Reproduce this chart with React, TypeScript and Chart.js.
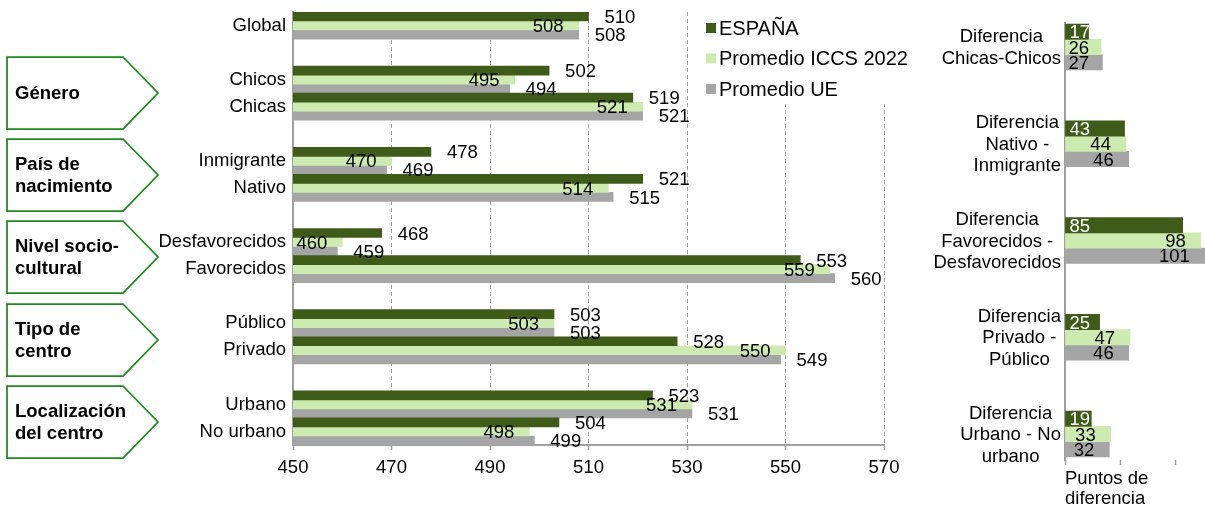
import React, { useEffect, useRef } from 'react';
import { Chart, registerables } from 'chart.js';

Chart.register(...registerables);

const FONT = "'Liberation Sans', Arial, sans-serif";
const DARK = '#3E5B19';
const LIGHT = '#CDEAB0';
const GRAY = '#A5A5A5';
const AXIS = '#A0A0A0';

// ---- main chart data ----
const categories = ['Global', '', 'Chicos', 'Chicas', '', 'Inmigrante', 'Nativo', '', 'Desfavorecidos', 'Favorecidos', '', 'Público', 'Privado', '', 'Urbano', 'No urbano'];
const espana = [510, null, 502, 519, null, 478, 521, null, 468, 553, null, 503, 528, null, 523, 504];
const iccs = [508, null, 495, 521, null, 470, 514, null, 460, 559, null, 503, 550, null, 531, 498];
const ue = [508, null, 494, 521, null, 469, 515, null, 459, 560, null, 503, 549, null, 531, 499];
const seriesNames = ['ESPAÑA', 'Promedio ICCS 2022', 'Promedio UE'];
const xTicks = [450, 470, 490, 510, 530, 550, 570];

// ---- group chevrons ----
const groupLabels = [['Género'], ['País de', 'nacimiento'], ['Nivel socio-', 'cultural'], ['Tipo de', 'centro'], ['Localización', 'del centro']];

// ---- difference chart data ----
const diffCategories = [
  ['Diferencia', 'Chicas-Chicos'],
  ['Diferencia', 'Nativo -', 'Inmigrante'],
  ['Diferencia', 'Favorecidos -', 'Desfavorecidos'],
  ['Diferencia', 'Privado -', 'Público'],
  ['Diferencia', 'Urbano - No', 'urbano'],
];
const diffEspana = [17, 43, 85, 25, 19];
const diffIccs = [26, 44, 98, 47, 33];
const diffUe = [27, 46, 101, 46, 32];
const diffTicks = [0, 40, 80];
const diffAxisTitle = ['Puntos de', 'diferencia'];

// layout constants (not data)
const chevronTops = [57, 139, 221, 304, 386];

const mainDecor = {
  id: 'mainDecor',
  beforeDatasetsDraw(chart: any) {
    const ctx = chart.ctx;
    ctx.save();
    // legend box (covers gridlines)
    ctx.fillStyle = '#fff';
    ctx.fillRect(697, 0, 216, 104);
    const ys = [28, 58.5, 89];
    const cols = [DARK, LIGHT, GRAY];
    ctx.font = `20px ${FONT}`;
    ctx.textBaseline = 'middle';
    ctx.textAlign = 'left';
    seriesNames.forEach((n, i) => {
      ctx.fillStyle = cols[i];
      ctx.fillRect(706, ys[i] - 5, 10, 10);
      ctx.fillStyle = '#000';
      ctx.fillText(n, 719, ys[i] + 1);
    });
    ctx.restore();
  },
  afterDatasetsDraw(chart: any) {
    const ctx = chart.ctx;
    ctx.save();
    ctx.font = `18.5px ${FONT}`;
    ctx.fillStyle = '#000';
    ctx.textBaseline = 'middle';
    chart.data.datasets.forEach((ds: any, di: number) => {
      const meta = chart.getDatasetMeta(di);
      meta.data.forEach((el: any, i: number) => {
        const v = ds.data[i];
        if (v == null) return;
        const { x, y } = el.getProps(['x', 'y'], true);
        if (di === 1) {
          ctx.textAlign = 'right';
          ctx.fillText(String(v), x - 15, y + 1.5);
        } else {
          ctx.textAlign = 'left';
          ctx.fillText(String(v), x + 16, y + 1.5);
        }
      });
    });
    ctx.restore();
  },
  afterDraw(chart: any) {
    const ctx = chart.ctx;
    ctx.save();
    groupLabels.forEach((lines, gi) => {
      const t = chevronTops[gi];
      const h = 72;
      ctx.beginPath();
      ctx.moveTo(7, t);
      ctx.lineTo(123, t);
      ctx.lineTo(158, t + h / 2);
      ctx.lineTo(123, t + h);
      ctx.lineTo(7, t + h);
      ctx.closePath();
      ctx.fillStyle = '#fff';
      ctx.fill();
      ctx.strokeStyle = '#1E8B1E';
      ctx.lineWidth = 1.75;
      ctx.stroke();
      ctx.fillStyle = '#000';
      ctx.font = `bold 18.5px ${FONT}`;
      ctx.textBaseline = 'middle';
      ctx.textAlign = 'left';
      const lh = 22;
      const cy = t + h / 2 + 1;
      lines.forEach((ln, li) => {
        ctx.fillText(ln, 15, cy - ((lines.length - 1) * lh) / 2 + li * lh);
      });
    });
    ctx.restore();
  },
};

const diffDecor = {
  id: 'diffDecor',
  afterDatasetsDraw(chart: any) {
    const ctx = chart.ctx;
    const yScale = chart.scales.y;
    const left = chart.chartArea.left;
    ctx.save();
    ctx.font = `18.5px ${FONT}`;
    ctx.textBaseline = 'middle';
    // category labels: lines centred on each other, block right-aligned to axis
    ctx.fillStyle = '#000';
    ctx.textAlign = 'center';
    const lh = 21.5;
    diffCategories.forEach((lines, i) => {
      const y = yScale.getPixelForValue(i) + 1;
      const maxW = Math.max(...lines.map((l) => ctx.measureText(l).width));
      const cx = left - 4 - maxW / 2;
      lines.forEach((ln, li) => {
        ctx.fillText(ln, cx, y - ((lines.length - 1) * lh) / 2 + li * lh);
      });
    });
    // value labels
    chart.data.datasets.forEach((ds: any, di: number) => {
      const meta = chart.getDatasetMeta(di);
      meta.data.forEach((el: any, i: number) => {
        const v = ds.data[i].x;
        const { x, y, base } = el.getProps(['x', 'y', 'base'], true);
        const txt = String(v);
        if (di === 0) {
          ctx.fillStyle = '#fff';
          ctx.textAlign = 'left';
          ctx.fillText(txt, base + 4, y + 1.5);
        } else {
          ctx.fillStyle = '#000';
          ctx.textAlign = 'right';
          const w = ctx.measureText(txt).width;
          const tx = Math.max(x - 15, base + 3 + w);
          ctx.fillText(txt, tx, y + 1.5);
        }
      });
    });
    ctx.restore();
  },
};

export default function App() {
  const mainRef = useRef<HTMLCanvasElement>(null);
  const diffRef = useRef<HTMLCanvasElement>(null);

  useEffect(() => {
    const tickFont = { family: FONT, size: 18.5 };
    const main = new Chart(mainRef.current as HTMLCanvasElement, {
      type: 'bar',
      data: {
        labels: categories,
        datasets: [
          { label: seriesNames[0], data: espana, backgroundColor: DARK },
          { label: seriesNames[1], data: iccs, backgroundColor: LIGHT },
          { label: seriesNames[2], data: ue, backgroundColor: GRAY },
        ].map((d) => ({ ...d, categoryPercentage: 1, barPercentage: 1, borderWidth: 0 })),
      },
      options: {
        indexAxis: 'y',
        responsive: true,
        maintainAspectRatio: false,
        animation: false,
        layout: { padding: { top: 12, right: 51, left: 0, bottom: 0 } },
        plugins: { legend: { display: false }, tooltip: { enabled: false } },
        scales: {
          x: {
            type: 'linear',
            min: 450,
            max: 570,
            afterBuildTicks: (s: any) => {
              s.ticks = xTicks.map((v) => ({ value: v }));
            },
            ticks: { font: tickFont, color: '#000', padding: 7 },
            grid: { color: AXIS, lineWidth: 1, drawTicks: true, tickLength: 5, tickColor: AXIS, tickWidth: 1.5 },
            border: { display: true, color: AXIS, width: 2, dash: [4, 3] },
            afterFit: (s: any) => {
              s.height = 64;
            },
          },
          y: {
            type: 'category',
            ticks: { autoSkip: false, font: tickFont, color: '#000', padding: 7 },
            grid: { display: false, drawTicks: false },
            border: { display: true, color: AXIS, width: 2 },
            afterFit: (s: any) => {
              s.width = 293;
              s.paddingTop = 0;
              s.paddingBottom = 0;
            },
          },
        },
      } as any,
      plugins: [mainDecor],
    });

    const diff = new Chart(diffRef.current as HTMLCanvasElement, {
      type: 'bar',
      data: {
        datasets: [
          { label: seriesNames[0], data: diffEspana.map((v, i) => ({ x: v, y: i })), backgroundColor: DARK },
          { label: seriesNames[1], data: diffIccs.map((v, i) => ({ x: v, y: i })), backgroundColor: LIGHT },
          { label: seriesNames[2], data: diffUe.map((v, i) => ({ x: v, y: i })), backgroundColor: GRAY },
        ].map((d) => ({ ...d, barThickness: 15.3, borderWidth: 0 })),
      },
      options: {
        indexAxis: 'y',
        responsive: true,
        maintainAspectRatio: false,
        animation: false,
        layout: { padding: { top: 23, right: 0, left: 0, bottom: 0 } },
        plugins: { legend: { display: false }, tooltip: { enabled: false } },
        scales: {
          x: {
            type: 'linear',
            min: 0,
            max: 101.1,
            afterBuildTicks: (s: any) => {
              s.ticks = diffTicks.map((v) => ({ value: v }));
            },
            ticks: { display: false },
            grid: { drawOnChartArea: false, drawTicks: true, tickLength: 5, tickColor: AXIS, tickWidth: 1.5 },
            border: { display: false },
            title: {
              display: true,
              text: diffAxisTitle,
              align: 'start',
              color: '#000',
              font: { family: FONT, size: 18.5, lineHeight: '20px' },
              padding: { top: 0, bottom: 0 },
            },
            afterFit: (s: any) => {
              s.height = 49;
            },
          },
          y: {
            type: 'linear',
            reverse: true,
            offset: false,
            min: -0.248,
            max: 4.269,
            afterBuildTicks: (s: any) => {
              s.ticks = diffCategories.map((_, i) => ({ value: i }));
            },
            ticks: { display: false },
            grid: { display: false, drawTicks: false, offset: false },
            border: { display: true, color: AXIS, width: 2 },
            afterFit: (s: any) => {
              s.width = 130;
              s.paddingTop = 0;
              s.paddingBottom = 0;
            },
          },
        },
      } as any,
      plugins: [diffDecor],
    });

    return () => {
      main.destroy();
      diff.destroy();
    };
  }, []);

  return (
    <div style={{ position: 'fixed', left: 0, top: 0, width: 1205, height: 509, background: '#fff', overflow: 'hidden' }}>
      <div style={{ position: 'absolute', left: 0, top: 0, width: 935, height: 509 }}>
        <canvas ref={mainRef} />
      </div>
      <div style={{ position: 'absolute', left: 935, top: 0, width: 270, height: 509 }}>
        <canvas ref={diffRef} />
      </div>
    </div>
  );
}
